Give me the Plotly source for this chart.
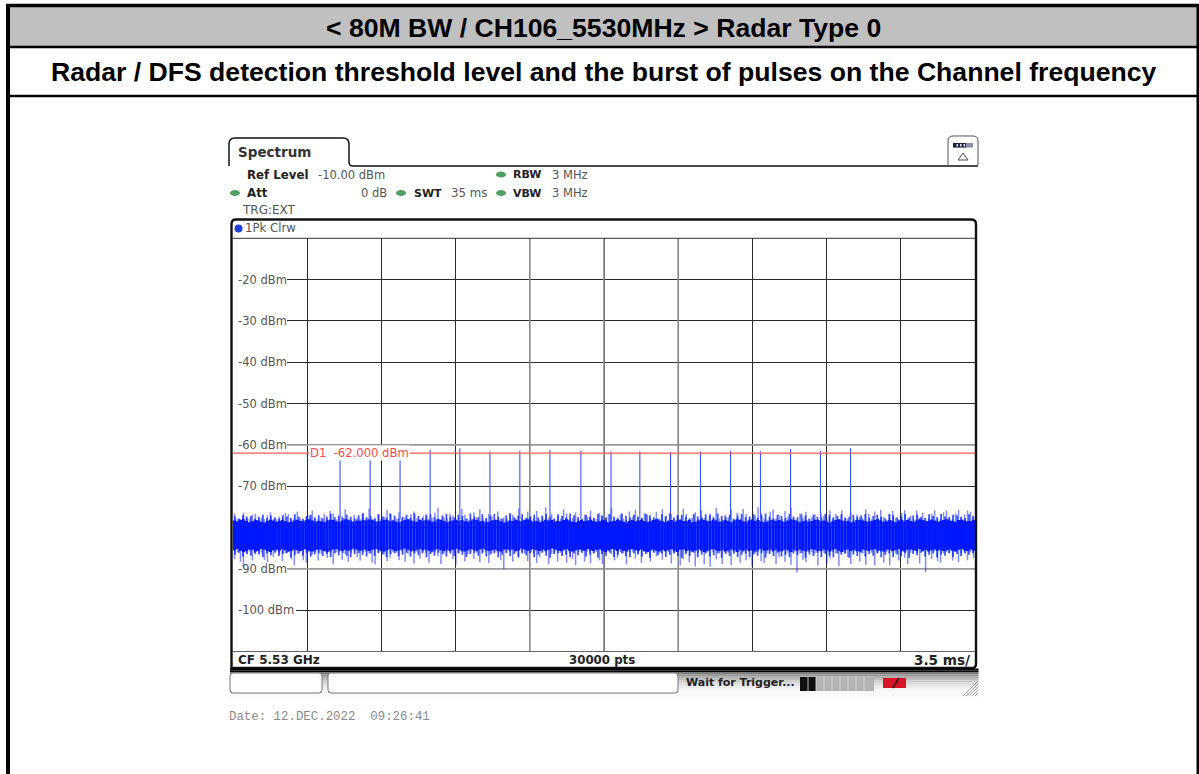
import plotly.graph_objects as go

W, H = 1199, 774
SWEEP_MS = 35.0
BLUE = "#0018ff"

grid_ms = [3.5, 7.0, 10.5, 14.0, 17.5, 21.0, 24.5, 28.0, 31.5]
level_ticks = [-20, -30, -40, -50, -60, -70, -80, -90, -100]
level_labels = ["-20 dBm", "-30 dBm", "-40 dBm", "-50 dBm", "-60 dBm", "-70 dBm", "", "-90 dBm", "-100 dBm"]
threshold_dbm = -62.0

pulse_ms = [5.05, 6.47, 7.88, 9.30, 10.70, 12.12, 13.53, 14.95, 16.41, 17.83,
            19.19, 20.64, 22.05, 23.47, 24.88, 26.30, 27.71, 29.13]
pulse_top_dbm = [-63.6, -63.6, -63.6, -61.2, -60.8, -61.6, -61.4, -61.2, -61.4, -61.6,
                 -61.6, -61.8, -61.6, -61.4, -61.6, -61.0, -61.4, -60.8]

noise_peak_dbm = [
 -76.6,-77.9,-78.0,-76.4,-77.2,-77.8,-76.9,-76.7,-78.1,-77.7,-78.0,-77.0,-76.3,-77.9,-78.0,-77.4,-77.8,-76.5,-76.8,-78.0,
 -77.7,-76.2,-77.9,-78.1,-77.3,-77.0,-75.9,-77.8,-78.0,-77.6,-76.7,-77.9,-76.0,-76.6,-78.0,-77.8,-77.2,-75.6,-77.9,-78.1,
 -76.9,-77.7,-78.0,-76.4,-77.8,-75.4,-77.9,-77.6,-76.8,-78.0,-77.3,-75.7,-76.5,-78.1,-77.8,-76.3,-77.9,-77.5,-78.0,-76.7,
 -76.1,-77.8,-78.0,-77.2,-76.8,-77.9,-77.7,-76.4,-75.2,-78.0,-77.6,-77.9,-76.6,-77.1,-78.1,-77.7,-75.5,-76.9,-78.0,-77.8,
 -76.3,-77.5,-75.6,-78.0,-77.9,-76.7,-77.3,-78.1,-76.1,-77.8,-77.6,-78.0,-76.5,-76.9,-77.9,-75.4,-77.7,-78.0,-76.2,-77.4,
 -77.9,-76.0,-78.1,-77.6,-75.1,-77.8,-76.8,-78.0,-77.3,-77.9,-75.6,-76.6,-78.0,-77.7,-76.3,-77.9,-78.1,-76.9,-77.5,-75.9,
 -77.8,-78.0,-76.4,-77.2,-77.9,-76.7,-75.3,-78.0,-77.6,-76.8,-77.9,-78.1,-76.1,-77.4,-75.7,-77.8,-78.0,-76.5,-76.9,-77.7,
 -78.0,-76.2,-77.9,-75.6,-77.5,-78.1,-76.8,-77.8,-77.0,-78.0,-75.4,-76.7,-77.9,-77.6,-76.3,-78.0,-75.8,-77.7,-78.1,-76.6,
 -77.3,-75.2,-77.9,-78.0,-76.9,-77.6,-75.7,-78.1,-76.4,-77.8,-75.5,-76.8,-78.0,-77.7,-77.0,-75.1,-76.5,-77.9,-78.1,-76.2,
 -75.6,-77.8,-76.9,-78.0,-76.0,-77.4,-75.3,-77.9,-78.1,-76.6,-77.7,-76.2,-78.0,-77.5,-76.8,-77.9,-76.4,-77.2,-78.0,-75.9,
 -77.8,-76.7,-78.1,-75.8,-77.6,-77.9,-76.3,-78.0,-76.9,-77.4,-77.8,-75.6,-76.7,-78.0,-76.1,-77.9,-75.7,-77.5,-78.1,-76.8,
 -76.0,-77.7,-78.0,-76.5,-75.8,-77.9,-77.2,-78.0,-75.9,-77.6,-76.4,-78.1,-77.8,-76.7,-75.8,-77.9,-78.0,-76.3,-75.9,-77.4,
 -78.0,-76.6,-75.7,-77.8,-76.8,-75.9,-76.2,-77.7,
]
noise_dip_dbm = [
 -87.6,-86.0,-88.3,-89.6,-86.2,-85.8,-88.0,-86.5,-85.9,-86.1,-87.8,-88.4,-86.0,-87.2,-85.8,-86.4,-88.1,-86.2,-85.9,-87.7,
 -89.2,-86.3,-85.8,-87.9,-88.5,-86.0,-86.6,-85.9,-88.0,-86.3,-85.8,-87.4,-86.1,-88.9,-86.0,-85.9,-87.8,-86.4,-88.3,-86.1,
 -85.8,-87.2,-88.0,-86.0,-85.9,-86.3,-88.5,-88.9,-86.2,-85.8,-86.5,-88.1,-87.3,-85.9,-86.1,-87.9,-85.8,-88.3,-86.4,-85.9,
 -88.7,-86.0,-87.5,-85.8,-86.2,-88.5,-86.1,-85.9,-87.0,-88.8,-86.3,-85.8,-86.0,-87.7,-89.0,-86.2,-85.9,-88.2,-86.4,-85.8,
 -87.6,-86.1,-88.4,-85.9,-86.0,-88.6,-86.3,-85.8,-86.1,-87.9,-90.0,-86.2,-85.9,-88.3,-86.0,-87.4,-85.8,-86.2,-88.1,-85.9,
 -86.3,-88.6,-87.2,-85.8,-86.0,-88.9,-86.4,-85.9,-88.2,-86.1,-85.8,-88.5,-86.2,-87.6,-89.1,-85.9,-86.0,-88.3,-85.8,-88.7,
 -86.3,-85.9,-87.9,-88.8,-86.1,-85.8,-86.4,-88.0,-87.3,-85.9,-86.2,-88.9,-86.0,-85.8,-87.5,-86.3,-88.6,-85.9,-86.1,-88.2,
 -85.8,-87.0,-86.2,-87.8,-85.9,-86.0,-88.7,-86.3,-85.8,-89.2,-87.6,-86.1,-88.4,-85.9,-89.4,-86.2,-85.8,-88.9,-86.0,-89.5,
 -85.9,-87.7,-86.3,-88.8,-85.8,-86.1,-89.1,-86.4,-85.9,-88.5,-86.0,-87.9,-85.8,-89.4,-86.2,-85.9,-88.1,-88.6,-86.3,-85.8,
 -86.0,-88.9,-87.2,-85.9,-88.3,-86.1,-89.0,-85.8,-90.9,-86.2,-87.8,-88.4,-85.9,-86.0,-86.3,-89.2,-85.8,-86.1,-88.7,-87.5,
 -85.9,-86.2,-89.3,-85.8,-86.4,-87.1,-88.8,-85.9,-86.0,-88.2,-86.3,-89.0,-85.8,-86.1,-89.1,-86.2,-85.9,-88.5,-86.0,-89.2,
 -85.8,-86.3,-88.0,-85.9,-87.3,-88.9,-86.1,-85.8,-86.2,-88.7,-85.9,-90.8,-86.0,-87.6,-85.8,-88.1,-88.5,-86.3,-85.9,-86.1,
 -88.0,-85.8,-88.4,-86.2,-85.9,-87.9,-86.0,-87.4,
]
shoulder_top_dbm = [
 -77.3,-77.8,-77.0,-77.6,-77.2,-77.9,-77.4,-76.9,-77.7,-77.1,-77.5,-77.8,-77.0,-77.3,-77.7,-76.8,-77.4,-77.9,-77.2,-76.9,
 -77.6,-77.0,-77.8,-77.3,-76.7,-77.5,-77.1,-77.7,-76.9,-77.4,-77.8,-77.0,-76.6,-77.5,-77.2,-77.9,-76.8,-77.3,-77.6,-76.7,
 -77.1,-77.8,-77.4,-76.9,-77.6,-76.6,-77.2,-77.7,-77.0,-76.8,-77.5,-77.9,-77.1,-76.7,-77.4,-77.6,-76.9,-77.2,-77.8,-76.6,
 -77.3,-77.5,-76.8,-77.7,-77.1,-76.7,-77.4,-77.9,-77.0,-76.6,-77.5,-77.2,-76.8,-77.7,-77.3,-76.9,-77.6,-77.1,-76.7,-77.4,
 -77.8,-76.8,-77.2,-77.6,-76.6,-77.0,-77.5,-77.9,-76.9,-77.3,-77.7,-76.7,-77.1,-77.5,-76.8,-77.4,-77.8,-76.6,-77.2,-77.6,
 -76.9,-77.3,-77.7,-76.7,-77.0,-77.5,-77.8,-76.8,-77.2,-76.6,-77.6,-77.1,-76.9,-77.4,-77.8,-76.7,-77.3,-77.5,-76.8,-77.0,
 -77.7,-76.6,-77.2,-77.4,-76.9,-77.8,-77.1,-76.7,-77.5,-77.3,-76.8,-77.6,-77.0,-76.6,-77.4,-77.9,-76.9,-77.2,-77.7,-76.7,
 -77.3,-77.5,-76.8,-77.1,-77.8,-76.9,-77.4,-77.6,-76.7,-77.0,-77.5,-77.2,-76.8,-77.7,-77.3,-76.9,-77.5,-77.1,-76.7,-77.6,
 -77.2,-76.9,-77.4,-77.8,-76.8,-77.0,-77.5,-77.3,-76.7,-77.6,-77.1,-76.9,-77.4,-77.7,-76.8,-77.2,-77.5,-76.7,-77.3,-77.6,
 -76.9,-77.1,-77.4,-77.7,-76.8,-77.2,
]
shoulder_bottom_dbm = [
 -86.6,-86.1,-87.0,-86.4,-86.8,-86.2,-86.5,-87.1,-86.3,-86.7,-86.1,-86.9,-86.4,-86.2,-87.2,-86.6,-86.3,-86.8,-86.1,-87.0,
 -86.5,-86.2,-86.9,-86.4,-87.1,-86.3,-86.7,-86.1,-86.8,-87.2,-86.4,-86.2,-86.6,-87.0,-86.3,-86.8,-86.1,-86.5,-87.1,-86.4,
 -86.2,-86.9,-86.6,-86.1,-87.0,-86.3,-86.7,-86.2,-87.2,-86.4,-86.8,-86.1,-86.5,-87.0,-86.3,-86.9,-86.2,-86.6,-87.1,-86.4,
 -86.1,-86.8,-86.3,-87.0,-86.5,-86.2,-87.2,-86.6,-86.1,-86.9,-86.4,-87.0,-86.3,-86.7,-86.2,-87.1,-86.5,-86.1,-86.8,-87.3,
 -86.4,-86.2,-86.9,-86.6,-87.2,-86.3,-86.7,-86.1,-87.0,-86.5,-86.2,-87.3,-86.4,-86.8,-86.1,-87.1,-86.6,-86.3,-86.9,-87.2,
 -86.2,-86.5,-87.0,-86.4,-87.3,-86.1,-86.7,-86.3,-87.1,-86.6,-86.2,-86.9,-87.3,-86.4,-86.8,-86.1,-87.2,-86.5,-86.3,-87.0,
 -86.7,-86.2,-87.3,-86.4,-86.9,-86.1,-87.1,-86.6,-86.3,-87.2,-86.5,-86.8,-86.2,-87.3,-86.4,-86.9,-86.1,-87.0,-86.6,-87.2,
 -86.3,-86.7,-86.2,-87.3,-86.5,-86.9,-86.1,-87.1,-86.4,-86.8,-87.2,-86.3,-86.6,-86.2,-87.3,-86.5,-86.9,-86.1,-87.0,-86.4,
 -86.8,-86.2,-87.2,-86.6,-86.3,-87.1,-86.5,-86.9,-86.2,-87.3,-86.4,-86.7,-86.1,-87.0,-86.6,-86.3,-87.2,-86.5,-86.8,-86.2,
 -87.1,-86.4,-86.9,-86.3,-86.6,-86.2,
]
band_top_dbm = [
 -78.3,-78.5,-78.2,-78.0,-78.4,-78.7,-78.5,-78.2,-78.3,-78.6,-78.8,-78.4,-78.1,-78.3,-78.6,-78.4,-78.2,-78.5,-78.7,-78.6,
 -78.3,-78.1,-78.4,-78.5,-78.2,-78.0,-78.3,-78.6,-78.4,-78.5,-78.7,-78.3,-78.1,-78.2,-78.5,-78.6,-78.3,-78.0,-78.2,-78.5,
 -78.6,-78.3,-78.4,-78.1,-78.3,-78.0,-78.2,-78.5,-78.6,-78.4,-78.1,-78.2,-78.5,-78.3,-78.6,-78.7,-78.4,-78.2,-78.0,-78.3,
 -78.5,-78.6,-78.2,-78.4,-78.1,-78.3,-78.6,-78.5,-78.0,-78.2,-78.4,-78.7,-78.5,-78.3,-78.1,-78.4,-78.2,-78.5,-78.6,-78.3,
 -78.0,-78.2,-78.5,-78.4,-78.7,-78.6,-78.3,-78.1,-78.2,-78.5,-78.8,-78.6,-78.3,-78.4,-78.1,-78.3,-78.5,-78.2,-78.0,-78.3,
 -78.6,-78.4,-78.7,-78.5,-78.1,-78.3,-78.2,-78.6,-78.4,-78.5,-78.2,-78.0,-78.3,-78.6,-78.7,-78.4,-78.2,-78.5,-78.3,-78.1,
 -78.4,-78.6,-78.5,-78.2,-78.3,-78.7,-78.5,-78.4,-78.1,-78.3,-78.6,-78.8,-78.4,-78.2,-78.5,-78.3,-78.1,-78.4,-78.6,-78.5,
 -78.2,-78.0,-78.3,-78.5,-78.7,-78.4,-78.2,-78.6,-78.3,-78.1,-78.4,-78.5,-78.2,-78.7,-78.6,-78.3,-78.0,-78.2,-78.5,-78.4,
 -78.1,-78.3,-78.6,-78.5,-78.2,-78.4,-78.7,-78.3,-78.0,-78.2,-78.5,-78.6,-78.3,-78.1,-78.4,-78.2,-78.5,-78.7,-78.6,-78.3,
 -78.1,-78.4,-78.2,-78.5,-78.6,-78.3,-78.0,-78.2,-78.4,-78.7,-78.5,-78.3,-78.6,-78.4,-78.1,-78.2,-78.5,-78.3,-78.6,-78.8,
 -78.4,-78.2,-78.0,-78.3,-78.5,-78.4,-78.7,-78.6,-78.2,-78.1,-78.3,-78.5,-78.6,-78.4,-78.2,-78.0,-78.3,-78.6,-78.5,-78.2,
 -78.4,-78.7,-78.3,-78.1,-78.5,-78.2,-78.4,-78.6,-78.3,-78.0,-78.2,-78.5,-78.4,-78.1,-78.3,-78.6,-78.5,-78.2,-78.0,-78.3,
 -78.4,-78.6,-78.2,-78.1,-78.3,-78.5,-78.4,-78.2,
]
band_bottom_dbm = [
 -85.5,-85.2,-85.6,-85.9,-85.7,-85.3,-85.4,-85.8,-85.6,-85.2,-85.4,-85.7,-85.9,-85.5,-85.3,-85.6,-85.2,-85.5,-85.8,-85.6,
 -85.3,-85.5,-85.7,-85.4,-85.2,-85.6,-85.8,-85.5,-85.3,-85.4,-85.7,-85.9,-85.6,-85.3,-85.2,-85.5,-85.7,-85.4,-85.6,-85.3,
 -85.1,-85.4,-85.6,-85.3,-85.5,-85.7,-85.4,-85.2,-85.3,-85.6,-85.8,-85.5,-85.2,-85.4,-85.7,-85.5,-85.3,-85.1,-85.4,-85.6,
 -85.7,-85.4,-85.2,-85.5,-85.3,-85.6,-85.8,-85.4,-85.2,-85.5,-85.7,-85.3,-85.6,-85.4,-85.1,-85.3,-85.6,-85.8,-85.5,-85.2,
 -85.4,-85.6,-85.3,-85.1,-85.4,-85.7,-85.5,-85.3,-85.6,-85.8,-85.4,-85.2,-85.5,-85.3,-85.7,-85.5,-85.1,-85.3,-85.6,-85.4,
 -85.2,-85.5,-85.7,-85.3,-85.6,-85.4,-85.1,-85.3,-85.5,-85.7,-85.4,-85.2,-85.6,-85.8,-85.5,-85.3,-85.4,-85.6,-85.2,-85.5,
 -85.7,-85.4,-85.3,-85.6,-85.9,-85.5,-85.2,-85.4,-85.7,-85.3,-85.6,-85.8,-85.4,-85.2,-85.5,-85.6,-85.3,-85.7,-85.9,-85.5,
 -85.3,-85.6,-85.8,-85.4,-85.7,-85.5,-85.2,-85.6,-85.9,-85.4,-85.3,-85.7,-85.5,-85.8,-85.6,-85.3,-85.5,-85.9,-85.6,-85.4,
 -85.2,-85.5,-85.7,-85.4,-85.8,-85.6,-85.3,-85.5,-85.9,-85.4,-85.6,-85.3,-85.7,-85.5,-85.8,-85.4,-85.2,-85.6,-85.5,-85.3,
 -85.7,-85.4,-85.8,-85.6,-85.3,-85.5,-85.9,-85.4,-85.7,-85.3,-85.6,-85.8,-85.5,-85.2,-85.4,-85.7,-85.6,-85.3,-85.5,-85.8,
 -85.4,-85.2,-85.6,-85.9,-85.5,-85.3,-85.7,-85.4,-85.6,-85.8,-85.3,-85.5,-85.7,-85.4,-85.2,-85.6,-85.5,-85.8,-85.3,-85.4,
 -85.7,-85.5,-85.2,-85.6,-85.8,-85.4,-85.3,-85.5,-85.7,-85.2,-85.6,-85.4,-85.8,-85.5,-85.3,-85.6,-85.4,-85.7,-85.5,-85.3,
 -85.6,-85.8,-85.4,-85.2,-85.5,-85.7,-85.3,-85.6,
]

FX = lambda px: px / W
FY = lambda py: 1 - py / H
SX = lambda px: (px - 233) / 742 * SWEEP_MS

fig = go.Figure()

def sticks(top, bottom, width, color):
    xs, ys = [], []
    n = len(top)
    for i, (a, b) in enumerate(zip(top, bottom)):
        t = (i + 0.5) * SWEEP_MS / n
        xs += [t, t, None]
        ys += [a, b, None]
    fig.add_trace(go.Scatter(x=xs, y=ys, mode="lines", line=dict(color=color, width=width),
                             hoverinfo="skip", showlegend=False, connectgaps=False))

sticks(noise_peak_dbm, noise_dip_dbm, 1.5, "rgba(0,24,255,0.5)")
sticks(shoulder_top_dbm, shoulder_bottom_dbm, 1.8, "rgba(0,24,255,0.75)")
sticks(band_top_dbm, band_bottom_dbm, 3.1, BLUE)

px_, py_ = [], []
for t, v in zip(pulse_ms, pulse_top_dbm):
    px_ += [t, t, None]
    py_ += [v, -78.0, None]
fig.add_trace(go.Scatter(x=px_, y=py_, mode="lines", line=dict(color="#3a50ff", width=1.1),
                         hoverinfo="skip", showlegend=False))
fig.add_trace(go.Scatter(x=[0, SWEEP_MS], y=[threshold_dbm, threshold_dbm], mode="lines",
                         line=dict(color="#ff5a5a", width=1.2), hoverinfo="skip", showlegend=False))

shapes, notes = [], []

def rect(x0, y0, x1, y1, fill=None, line=None, lw=1, layer="above"):
    shapes.append(dict(type="rect", xref="paper", yref="paper", x0=FX(x0), x1=FX(x1), y0=FY(y1), y1=FY(y0),
                       fillcolor=fill or "rgba(0,0,0,0)", line=dict(color=line or "rgba(0,0,0,0)", width=lw if line else 0), layer=layer))

def seg(x0, y0, x1, y1, color="#000", lw=1):
    shapes.append(dict(type="line", xref="paper", yref="paper", x0=FX(x0), x1=FX(x1), y0=FY(y0), y1=FY(y1),
                       line=dict(color=color, width=lw), layer="above"))

def path(points, color="#111", lw=1.5, fill=None):
    out = []
    for tok in points.split():
        if "," in tok:
            a, b = tok.split(",")
            out.append(f"{FX(float(a)):.5f},{FY(float(b)):.5f}")
        else:
            out.append(tok)
    shapes.append(dict(type="path", xref="paper", yref="paper", path=" ".join(out),
                       line=dict(color=color, width=lw), fillcolor=fill or "rgba(0,0,0,0)", layer="above"))

def led(cx, cy, color="#4f9f5f", rx=5, ry=3):
    shapes.append(dict(type="circle", xref="paper", yref="paper", x0=FX(cx-rx), x1=FX(cx+rx), y0=FY(cy+ry), y1=FY(cy-ry),
                       fillcolor=color, line=dict(width=0), layer="above"))

def text(x, y, s, size=11, color="#333", anchor="left", family="DejaVu Sans", bold=False):
    notes.append(dict(xref="paper", yref="paper", x=FX(x), y=FY(y), text=f"<b>{s}</b>" if bold else s,
                      showarrow=False, xanchor=anchor, yanchor="middle", borderpad=0, borderwidth=0,
                      font=dict(family=family, size=size, color=color)))

# report table
rect(8, 6, 1197, 46.5, fill="#c0c0c0", layer="below")
seg(6, 5.5, 1199, 5.5, lw=3.5)
seg(8, 4, 8, 774, lw=4)
seg(1198, 4, 1198, 774, lw=3)
seg(8, 47, 1198, 47, lw=2.4)
seg(8, 96, 1198, 96, lw=2.4)
text(603.5, 28.5, "&lt; 80M BW / CH106_5530MHz &gt; Radar Type 0", 26.6, "#000", "center", "Liberation Sans", True)
text(603.5, 72, "Radar / DFS detection threshold level and the burst of pulses on the Channel frequency", 26.6, "#000", "center", "Liberation Sans", True)

# instrument tab and header
path("M 229,166 L 229,144 Q 229,138 235,138 L 343,138 Q 349,138 349,144 L 349,162 Q 349,166 353,166 L 978,166")
text(238, 152, "<b>Spectrum</b>", 13.5, "#333")
path("M 948,165 L 948,141 Q 948,136 953,136 L 973,136 Q 978,136 978,141 L 978,165", "#555", 1)
rect(953, 143, 973, 147.5, fill="#8a8fa6")
rect(953, 143, 966, 147.5, fill="#20223a")
for sx in [956.5, 960, 963.5]:
    rect(sx, 144, sx + 1.6, 146.5, fill="#dfe2f2")
path("M 958,160 L 968,160 L 963,153 Z", "#445", 1)

text(247, 174.5, "Ref Level", 11.8, "#222", bold=True)
text(318, 174.5, "-10.00 dBm", 11.5, "#555")
text(513, 174.5, "RBW", 11, "#222", bold=True)
text(552, 174.5, "3 MHz", 11.5, "#555")
text(247, 193, "Att", 11.8, "#222", bold=True)
text(361, 193, "0 dB", 11.5, "#555")
text(414, 193, "SWT", 11, "#222", bold=True)
text(451, 193, "35 ms", 11.8, "#555")
text(513, 193, "VBW", 11, "#222", bold=True)
text(552, 193, "3 MHz", 11.5, "#555")
text(242, 210, "TRG:EXT", 12, "#555")
for cx, cy in [(501, 174.5), (235, 193), (401, 193), (501, 193)]:
    led(cx, cy)

# diagram frame
path("M 231.5,668 L 231.5,224 Q 231.5,219.5 236,219.5 L 971,219.5 Q 976,219.5 976,224 L 976,664 Q 976,668 972,668 Z", "#111", 2.4)
seg(233, 238.3, 975, 238.3, "#333", 1)
seg(233, 651.5, 975, 651.5, "#666", 1.2)
led(238.5, 228.5, "#1f3fd8", 4, 4)
text(245, 228.5, "1Pk Clrw", 11.7, "#555")
text(238, 660, "CF 5.53 GHz", 12, "#222", bold=True)
text(602, 660, "30000 pts", 11.8, "#222", "center", bold=True)
text(970, 660, "3.5 ms/", 13.6, "#222", "right", bold=True)

# status bar
bar_greys = ["#000000", "#000000", "#7a7a7a", "#939393", "#a8a8a8", "#bababa", "#cacaca", "#d8d8d8", "#e2e2e2",
             "#ebebeb", "#f1f1f1", "#f5f5f5", "#f8f8f8", "#fafafa", "#fbfbfb"]
for i, g in enumerate(bar_greys):
    yb = 668.5 + i * 2
    rect(230, yb, 978.5, yb + 2.1, fill=g)
path("M 233,673 L 319,673 Q 322,673 322,676 L 322,690 Q 322,693 319,693 L 233,693 Q 230,693 230,690 L 230,676 Q 230,673 233,673 Z", "#777", 1, "#ffffff")
path("M 331,673 L 675,673 Q 678,673 678,676 L 678,690 Q 678,693 675,693 L 331,693 Q 328,693 328,690 L 328,676 Q 328,673 331,673 Z", "#777", 1, "#ffffff")
text(686, 682, "Wait for Trigger...", 11, "#222", bold=True)
rect(800, 677, 874, 691, fill="#b4b4b4")
rect(800, 677, 816, 691, fill="#111")
for sx in [808, 816, 824, 832, 840, 848, 856, 864]:
    seg(sx, 677, sx, 691, "#dddddd", 0.8)
rect(883, 678, 906, 688, fill="#d8142a")
seg(893, 688, 899, 678, "#300", 1.5)
for k in [0, 3, 6, 9, 12]:
    seg(963 + k, 696, 978, 681 + k, "#888", 0.8)

text(229, 717, "Date: 12.DEC.2022&nbsp;&nbsp;09:26:41", 12.4, "#8a8a8a", family="Liberation Mono")
notes.append(dict(xref="x", yref="y", x=SX(309), y=threshold_dbm, text="D1&nbsp;&nbsp;-62.000 dBm", showarrow=False,
                  xanchor="left", yanchor="middle", bgcolor="#ffffff", borderpad=0,
                  font=dict(family="DejaVu Sans", size=11.6, color="#ff4a4a")))

# white gaps under the level labels, heavier grey grid lines
for lv, lab in zip(level_ticks, level_labels):
    if lab:
        shapes.append(dict(type="rect", xref="x", yref="y", x0=0, x1=SX(296 if lv == -100 else 287), y0=lv - 1.3, y1=lv + 1.3,
                           fillcolor="#ffffff", line=dict(width=0), layer="between"))
for lv in [-60, -90]:
    shapes.append(dict(type="line", xref="x", yref="y", x0=SX(287), x1=SWEEP_MS, y0=lv, y1=lv,
                       line=dict(color="#999", width=1.6), layer="between"))
for t in [14.0, 17.5, 21.0]:
    shapes.append(dict(type="line", xref="x", yref="y", x0=t, x1=t, y0=-110, y1=-10,
                       line=dict(color="#888", width=1.6), layer="between"))

fig.update_layout(
    width=W, height=H, margin=dict(l=0, r=0, t=0, b=0), paper_bgcolor="#ffffff", plot_bgcolor="#ffffff",
    showlegend=False, shapes=shapes, annotations=notes,
    xaxis=dict(domain=[FX(233), FX(975)], range=[0, SWEEP_MS], tickvals=grid_ms, showticklabels=False, ticks="",
               showgrid=True, gridcolor="#2a2a2a", gridwidth=1, zeroline=False, showline=False, fixedrange=True),
    yaxis=dict(domain=[FY(651.5), FY(238.3)], range=[-110, -10], tickvals=level_ticks, ticktext=level_labels,
               ticklabelposition="inside", ticklabelstandoff=2, ticks="", showgrid=True, gridcolor="#2a2a2a", gridwidth=1,
               zeroline=False, showline=False, fixedrange=True,
               tickfont=dict(family="DejaVu Sans", size=11.5, color="#555")),
)

fig.write_html("out.html", config=dict(displayModeBar=False),
               post_script="document.body.style.margin='0';document.body.style.overflow='hidden';")
